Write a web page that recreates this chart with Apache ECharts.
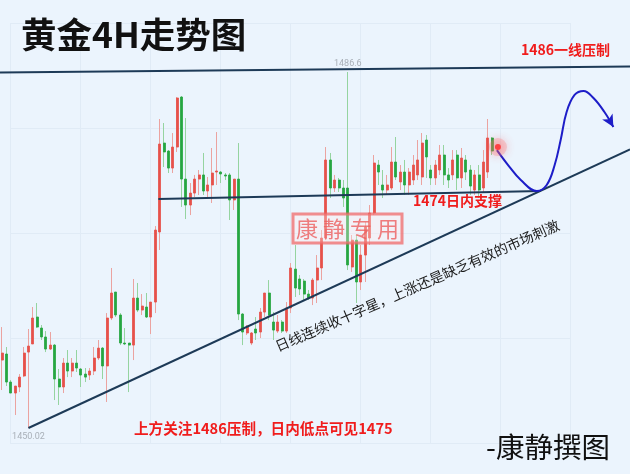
<!DOCTYPE html>
<html>
<head>
<meta charset="utf-8">
<script src="https://cdn.jsdelivr.net/npm/echarts@6/dist/echarts.min.js"></script>
<style>
  html, body { margin: 0; padding: 0; background: #ebf4fd; }
  #chart { width: 630px; height: 474px; }
</style>
</head>
<body>
<div id="chart"></div>
<script>
// Gold 4H candles (open / close / low / high)
const opens = [
  1457.00, 1457.62, 1454.74, 1453.61, 1454.23, 1455.36, 1457.82, 1458.65, 1461.42, 1460.29,
  1459.37, 1458.13, 1458.54, 1455.05, 1454.23, 1456.69, 1455.87, 1456.69, 1456.08, 1455.56,
  1455.46, 1455.87, 1457.21, 1458.23, 1456.39, 1461.32, 1463.99, 1461.63, 1458.75, 1458.75,
  1458.54, 1463.37, 1462.14, 1462.45, 1461.42, 1462.96, 1470.16, 1479.30, 1478.48, 1476.73,
  1478.89, 1484.03, 1475.60, 1472.93, 1474.16, 1475.60, 1476.02, 1474.37, 1474.99, 1476.32,
  1476.32, 1476.02, 1476.02, 1473.45, 1475.60, 1461.73, 1459.78, 1458.75, 1460.19, 1459.88,
  1461.93, 1463.89, 1460.91, 1459.98, 1460.91, 1459.98, 1462.35, 1466.35, 1465.33, 1465.12,
  1463.78, 1463.37, 1465.22, 1466.46, 1469.54, 1477.56, 1474.68, 1475.50, 1474.68, 1474.68,
  1466.56, 1469.33, 1465.02, 1467.79, 1469.54, 1472.11, 1477.04, 1474.99, 1474.47, 1474.68,
  1477.35, 1475.30, 1476.32, 1474.99, 1475.50, 1476.02, 1475.81, 1479.61, 1476.53, 1475.71,
  1476.53, 1478.07, 1476.02, 1476.02, 1478.07, 1475.71, 1477.56, 1476.53, 1474.47, 1476.02,
  1474.68, 1476.32, 1479.82
];
const closes = [
  1457.72, 1454.74, 1453.61, 1454.33, 1455.25, 1457.72, 1458.44, 1461.32, 1460.39, 1459.37,
  1458.13, 1458.54, 1455.05, 1454.23, 1456.69, 1455.87, 1456.69, 1456.18, 1455.46, 1455.25,
  1455.87, 1457.21, 1458.23, 1456.39, 1461.32, 1463.89, 1461.63, 1458.75, 1458.65, 1458.54,
  1463.37, 1462.14, 1462.55, 1461.42, 1462.96, 1470.36, 1479.20, 1478.38, 1476.73, 1478.89,
  1483.93, 1475.60, 1472.93, 1474.16, 1475.60, 1476.02, 1474.37, 1474.99, 1476.22, 1476.43,
  1476.12, 1475.91, 1473.45, 1475.60, 1461.73, 1459.88, 1460.50, 1459.78, 1459.78, 1461.93,
  1463.89, 1461.63, 1460.08, 1460.91, 1459.98, 1462.35, 1466.46, 1464.40, 1464.30, 1463.78,
  1463.37, 1465.22, 1466.46, 1469.54, 1477.56, 1474.68, 1475.50, 1474.68, 1473.65, 1466.77,
  1469.33, 1465.02, 1467.79, 1470.67, 1472.11, 1477.25, 1476.32, 1474.47, 1474.99, 1477.35,
  1475.81, 1476.32, 1474.99, 1476.32, 1477.04, 1477.56, 1479.30, 1477.87, 1475.71, 1477.04,
  1478.07, 1476.02, 1475.50, 1477.56, 1475.71, 1477.76, 1476.32, 1474.88, 1476.02, 1474.47,
  1477.35, 1479.82, 1478.48
];
const lows = [
  1453.92, 1454.33, 1453.61, 1451.35, 1453.71, 1455.25, 1450.02, 1458.65, 1460.29, 1459.06,
  1457.82, 1458.03, 1452.89, 1452.38, 1453.61, 1455.25, 1455.25, 1455.77, 1454.23, 1454.74,
  1454.95, 1455.46, 1457.00, 1455.05, 1452.69, 1461.11, 1461.42, 1458.54, 1458.54, 1453.71,
  1457.00, 1461.93, 1461.63, 1461.32, 1459.67, 1461.83, 1468.31, 1476.84, 1476.22, 1476.22,
  1478.38, 1472.73, 1471.49, 1471.90, 1473.75, 1473.96, 1473.96, 1473.75, 1473.14, 1474.99,
  1475.19, 1475.50, 1471.39, 1472.42, 1461.11, 1458.54, 1459.57, 1458.54, 1459.06, 1459.26,
  1461.42, 1461.11, 1459.06, 1459.78, 1459.78, 1459.78, 1461.83, 1463.48, 1463.68, 1463.17,
  1463.17, 1462.65, 1462.86, 1465.22, 1469.33, 1473.65, 1474.27, 1474.27, 1472.73, 1466.25,
  1466.05, 1462.86, 1464.20, 1465.02, 1468.82, 1471.90, 1474.99, 1473.65, 1473.96, 1474.47,
  1475.50, 1474.47, 1473.96, 1473.96, 1474.99, 1475.50, 1474.99, 1475.71, 1474.99, 1474.99,
  1476.02, 1474.99, 1474.68, 1475.50, 1474.47, 1474.68, 1475.50, 1473.96, 1473.96, 1473.65,
  1474.27, 1475.71, 1478.07
];
const highs = [
  1460.39, 1458.34, 1454.95, 1454.33, 1455.56, 1458.34, 1460.19, 1462.45, 1462.86, 1460.60,
  1459.98, 1459.88, 1458.65, 1456.08, 1457.21, 1458.03, 1457.21, 1458.03, 1456.18, 1456.18,
  1456.18, 1458.34, 1459.06, 1458.34, 1461.83, 1466.46, 1463.99, 1461.83, 1460.29, 1458.75,
  1465.33, 1464.92, 1463.78, 1463.89, 1462.96, 1470.77, 1481.77, 1481.36, 1478.58, 1480.33,
  1484.03, 1484.13, 1481.87, 1475.19, 1476.02, 1476.53, 1478.28, 1475.81, 1478.79, 1480.43,
  1476.43, 1476.22, 1476.22, 1475.60, 1479.30, 1461.83, 1460.60, 1459.88, 1461.42, 1462.35,
  1463.89, 1465.22, 1461.93, 1461.63, 1461.11, 1462.96, 1466.97, 1468.82, 1465.74, 1465.33,
  1464.20, 1465.43, 1467.79, 1470.36, 1478.89, 1478.28, 1476.02, 1475.71, 1475.50, 1486.6,
  1469.85, 1469.85, 1468.82, 1471.18, 1472.93, 1478.07, 1477.56, 1476.53, 1476.02, 1478.89,
  1479.92, 1477.04, 1477.56, 1476.73, 1478.07, 1479.61, 1480.33, 1480.13, 1477.04, 1477.56,
  1479.10, 1479.10, 1476.73, 1478.58, 1478.58, 1478.79, 1478.07, 1477.04, 1476.53, 1477.04,
  1478.58, 1481.77, 1479.92
];

// Bar slots on the time axis (the right part is left empty for the projection)
const slotCount = 144;
const categories = Array.from({ length: slotCount }, (_, i) => 'K' + (i + 1));

// Drawn levels and trend lines: [bar index, price]
const resistanceLine = [[-0.5, 1486.55], [143.5, 1487.17]];
const supportLine = [[35.7, 1473.55], [123.1, 1474.37]];
const trendLine = [[6, 1450.02], [143.5, 1478.65]];

// Projected path after the last bar
const forecastPath = [
  [113.08, 1478.58], [115.81, 1476.94], [118.54, 1475.50], [122.18, 1474.37],
  [124.46, 1474.99], [126.28, 1477.04], [127.65, 1479.61], [129.01, 1482.49],
  [130.83, 1484.24], [132.88, 1484.65], [135.15, 1483.93], [137.66, 1482.49],
  [139.70, 1480.95]
];
const startDot = [[113.31, 1478.89]];

const candles = opens.map((o, i) => [o, closes[i], lows[i], highs[i]]);
const bodies = opens.map((o, i) => [o, closes[i], Math.min(o, closes[i]), Math.max(o, closes[i])]);

const FONT = '"Noto Sans CJK SC", "Noto Sans", sans-serif';
const RED_TXT = '#f01c1c';
const NAVY = '#1d3a57';

const lastIdx = forecastPath.length - 1;
const forecastData = forecastPath.map((p, i) => i === lastIdx
  ? { value: p, symbol: 'arrow', symbolSize: [9, 12], symbolRotate: -150, itemStyle: { color: '#1d1dc8' } }
  : p);

const chart = echarts.init(document.getElementById('chart'));
chart.setOption({
  backgroundColor: '#ebf4fd',
  animation: false,
  textStyle: { fontFamily: FONT },
  grid: [
    { left: -1.2, top: 0, width: 632.9, height: 474 },
    { left: 10, top: 23, width: 560, height: 420 }
  ],
  xAxis: [
    { type: 'category', gridIndex: 0, data: categories, boundaryGap: true, show: false },
    { type: 'value', gridIndex: 0, min: -0.5, max: slotCount - 0.5, show: false },
    {
      type: 'value', gridIndex: 1, min: 0, max: 8, interval: 1,
      axisLine: { show: false }, axisTick: { show: false }, axisLabel: { show: false },
      splitLine: { show: true, lineStyle: { color: '#e0ebf6', width: 1 } }
    }
  ],
  yAxis: [
    { type: 'value', gridIndex: 0, min: 1445.29, max: 1494.0, show: false },
    {
      type: 'value', gridIndex: 1, min: 0, max: 4, interval: 1,
      axisLine: { show: false }, axisTick: { show: false }, axisLabel: { show: false },
      splitLine: { show: true, lineStyle: { color: '#e0ebf6', width: 1 } }
    }
  ],
  series: [
    {
      name: 'wick', type: 'candlestick', xAxisIndex: 0, yAxisIndex: 0,
      data: candles, barWidth: 1, z: 3,
      itemStyle: {
        color: '#eba3a0', color0: '#95d4a0',
        borderColor: '#eba3a0', borderColor0: '#95d4a0', borderWidth: 1
      },
      markPoint: {
        symbol: 'circle', symbolSize: 1,
        itemStyle: { color: 'rgba(0,0,0,0)' },
        label: {
          show: true, color: '#a9b0b8', fontSize: 9, fontFamily: 'Roboto, sans-serif',
          formatter: p => String(p.value)
        },
        data: [
          { type: 'max', valueDim: 'highest', label: { position: 'top', distance: 3 } },
          { type: 'min', valueDim: 'lowest', label: { position: 'bottom', distance: 4 } }
        ]
      }
    },
    {
      name: 'body', type: 'candlestick', xAxisIndex: 0, yAxisIndex: 0,
      data: bodies, barWidth: 2.6, z: 4,
      itemStyle: {
        color: '#e6514a', color0: '#26a641',
        borderColor: '#e6514a', borderColor0: '#26a641', borderWidth: 0.8
      }
    },
    {
      name: 'resistance', type: 'line', xAxisIndex: 1, yAxisIndex: 0, data: resistanceLine,
      symbol: 'none', z: 5, lineStyle: { color: NAVY, width: 2 }
    },
    {
      name: 'support', type: 'line', xAxisIndex: 1, yAxisIndex: 0, data: supportLine,
      symbol: 'none', z: 5, lineStyle: { color: NAVY, width: 2 }
    },
    {
      name: 'trend', type: 'line', xAxisIndex: 1, yAxisIndex: 0, data: trendLine,
      symbol: 'none', z: 5, lineStyle: { color: NAVY, width: 2 }
    },
    {
      name: 'projection', type: 'line', xAxisIndex: 1, yAxisIndex: 0, data: forecastData,
      smooth: 0.4, symbol: 'none', showSymbol: true, z: 6,
      lineStyle: { color: '#1d1dc8', width: 2 }
    },
    {
      name: 'glow', type: 'scatter', xAxisIndex: 1, yAxisIndex: 0, data: startDot,
      symbolSize: 18, z: 6, silent: true,
      itemStyle: { color: 'rgba(255,120,120,0.35)', shadowBlur: 10, shadowColor: 'rgba(255,90,90,0.7)' }
    },
    {
      name: 'start', type: 'scatter', xAxisIndex: 1, yAxisIndex: 0, data: startDot,
      symbolSize: 6, z: 7,
      itemStyle: { color: '#ff2525', shadowBlur: 12, shadowColor: 'rgba(255,50,50,0.9)' }
    }
  ],
  graphic: [
    {
      type: 'text', left: 21, top: 17, z: 100,
      style: { text: '黄金4H走势图', font: 'bold 35.5px ' + FONT, fill: '#111' }
    },
    {
      type: 'text', left: 521, top: 43, z: 100,
      style: { text: '1486一线压制', font: 'bold 14px ' + FONT, fill: RED_TXT }
    },
    {
      type: 'text', left: 413, top: 194, z: 100,
      style: { text: '1474日内支撑', font: 'bold 14px ' + FONT, fill: RED_TXT }
    },
    {
      type: 'text', left: 134, top: 421, z: 100,
      style: { text: '上方关注1486压制，日内低点可见1475', font: 'bold 14.6px ' + FONT, fill: RED_TXT }
    },
    {
      type: 'text', x: 276, y: 347, rotation: 0.41, z: 100,
      style: {
        text: '日线连续收十字星，上涨还是缺乏有效的市场刺激',
        font: '14px ' + FONT, fill: '#1a1a1a', align: 'left', verticalAlign: 'middle'
      }
    },
    {
      type: 'rect', z: 100,
      shape: { x: 293, y: 214, width: 109, height: 29 },
      style: { fill: 'rgba(255,236,236,0.35)', stroke: 'rgba(240,105,105,0.75)', lineWidth: 3 }
    },
    {
      type: 'text', x: 347.5, y: 229, z: 101,
      style: {
        text: '康 静 专 用', font: '22px ' + FONT, fill: 'rgba(236,95,95,0.8)',
        align: 'center', verticalAlign: 'middle'
      }
    },
    {
      type: 'text', left: 486, top: 433, z: 100,
      style: { text: '-康静撰图', font: '28.5px ' + FONT, fill: '#111' }
    }
  ]
});
</script>
</body>
</html>
